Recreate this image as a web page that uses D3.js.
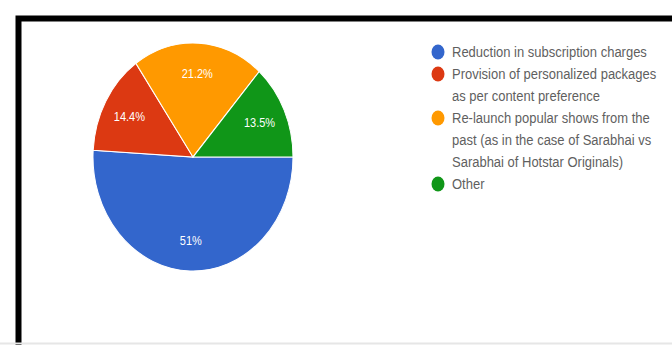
<!DOCTYPE html>
<html>
<head>
<meta charset="utf-8">
<script src="https://cdn.jsdelivr.net/npm/d3@7"></script>
<style>
  html, body { margin: 0; padding: 0; background: #fff; }
  svg { display: block; font-family: "Liberation Sans", Arial, sans-serif; }
</style>
</head>
<body>
<svg id="chart"></svg>
<script>
const categories = [
  'Reduction in subscription charges',
  'Provision of personalized packages as per content preference',
  'Re-launch popular shows from the past (as in the case of Sarabhai vs Sarabhai of Hotstar Originals)',
  'Other'
];
const values = [51, 14.4, 21.2, 13.5];
const sliceLabels = ['51%', '14.4%', '21.2%', '13.5%'];
const colors = ['#3366cc', '#dc3912', '#ff9900', '#109618'];

const width = 672;
const height = 345;
const stretch = 1.14; // picture is a bit taller than wide

const svg = d3.select('#chart')
  .attr('width', width)
  .attr('height', height);

svg.append('rect')
  .attr('width', width)
  .attr('height', height)
  .attr('fill', '#fff');

// frame (left + top only, the rest is cut off)
svg.append('path')
  .attr('d', `M18.5,${height} L18.5,18.5 L${width},18.5`)
  .attr('fill', 'none')
  .attr('stroke', '#000')
  .attr('stroke-width', 6);

svg.append('line')
  .attr('x1', 0).attr('x2', width)
  .attr('y1', height - 1.5).attr('y2', height - 1.5)
  .attr('stroke', '#e6e6e6')
  .attr('stroke-width', 2);

// pie
const radius = 100;
const pie = d3.pie()
  .sort(null)
  .value(d => d)
  .startAngle(Math.PI / 2)
  .endAngle(Math.PI / 2 + Math.PI * 2);

const arc = d3.arc().innerRadius(0).outerRadius(radius);
const labelArc = d3.arc().innerRadius(radius * 0.48).outerRadius(radius * 0.98);

const pieG = svg.append('g')
  .attr('transform', `translate(193,157) scale(1,${stretch})`);

const slices = pie(values);

pieG.selectAll('path')
  .data(slices)
  .enter()
  .append('path')
  .attr('d', arc)
  .attr('fill', (d, i) => colors[i])
  .attr('stroke', '#fff')
  .attr('stroke-width', 1);

pieG.selectAll('text')
  .data(slices)
  .enter()
  .append('text')
  .attr('x', d => labelArc.centroid(d)[0])
  .attr('y', d => labelArc.centroid(d)[1])
  .attr('dy', '0.35em')
  .attr('text-anchor', 'middle')
  .attr('fill', '#fff')
  .attr('font-size', 11)
  .text((d, i) => sliceLabels[i]);

// legend
const lineH = 22;
const maxW = 214;
const legend = svg.append('g');

let y = 52;
categories.forEach((cat, i) => {
  legend.append('ellipse')
    .attr('cx', 438)
    .attr('cy', y)
    .attr('rx', 6.5)
    .attr('ry', 6.5 * stretch)
    .attr('fill', colors[i]);

  // wrap words into lines
  const words = cat.split(' ');
  const lines = [];
  let cur = '';
  const probe = legend.append('text').attr('font-size', 13);
  words.forEach(w => {
    const test = cur ? cur + ' ' + w : w;
    probe.text(test);
    if (probe.node().getComputedTextLength() > maxW && cur) {
      lines.push(cur);
      cur = w;
    } else {
      cur = test;
    }
  });
  lines.push(cur);
  probe.remove();

  lines.forEach((ln, k) => {
    legend.append('text')
      .attr('transform', `translate(452,${y + k * lineH}) scale(1,${stretch})`)
      .attr('dy', '0.35em')
      .attr('font-size', 13)
      .attr('fill', '#5f5f5f')
      .text(ln);
  });
  y += lines.length * lineH;
});
</script>
</body>
</html>
